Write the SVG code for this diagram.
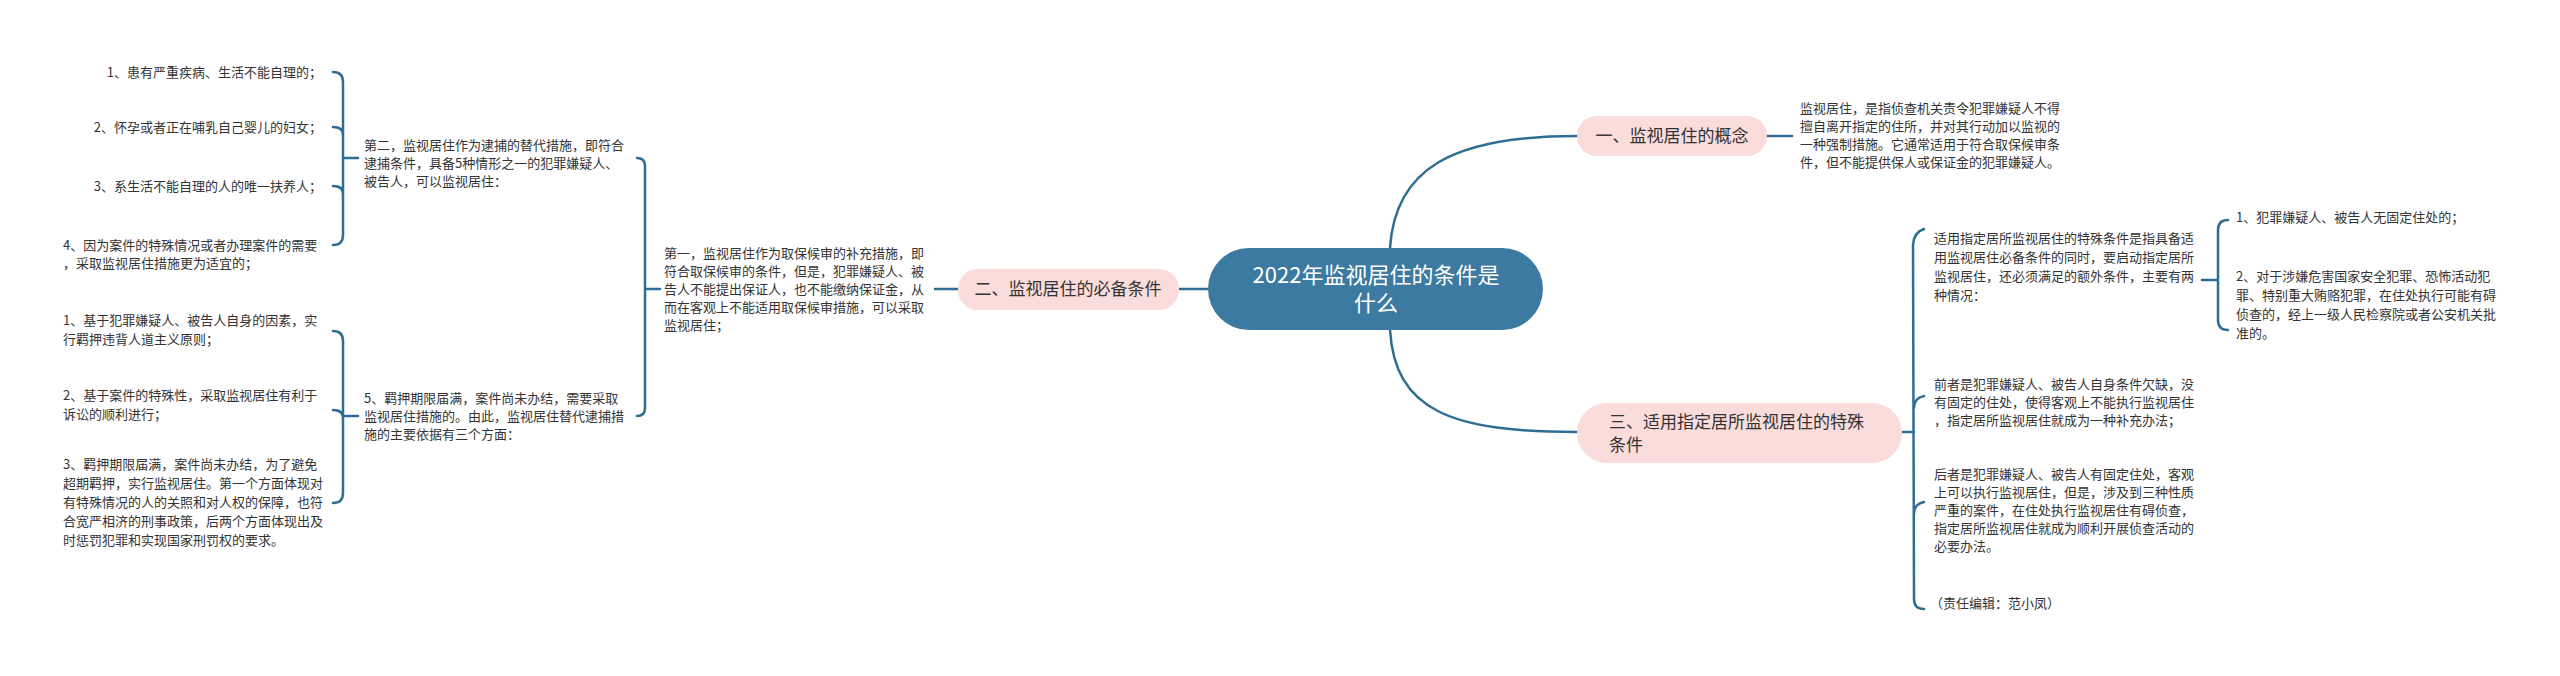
<svg xmlns="http://www.w3.org/2000/svg" width="2560" height="676" viewBox="0 0 2560 676">
<style>
.c{fill:none;stroke:#2f6d93;stroke-width:2.5;stroke-linecap:round}
.t{font-family:"Noto Sans CJK SC","Liberation Sans",sans-serif;font-size:13px;fill:#333}
.n{font-family:"Noto Sans CJK SC","Liberation Sans",sans-serif;font-size:17px;fill:#333}
.r{font-family:"Noto Sans CJK SC","Liberation Sans",sans-serif;font-size:22px;fill:#fff}
.pk{fill:#fadcdb}
</style>
<rect width="2560" height="676" fill="#fff"/>
<g id="connectors">
<path class="c" d="M1390,248 C1395,170 1450,136 1577,136"/>
<path class="c" d="M1390,330 C1395,410 1450,432 1577,432"/>
<path class="c" d="M1208,289 L1179,289"/>
<path class="c" d="M1765,136 L1792,136"/>
<path class="c" d="M958,289 L935,289"/>
<path class="c" d="M660,289 L645,289 M637,158 Q645,158 645,166 L645,408 Q645,416 637,416"/>
<path class="c" d="M358,158 L343,158 M333,72 Q343,72 343,82 L343,235 Q343,245 333,245 M333,127 Q343,127 343,135 M333,186 Q343,186 343,194"/>
<path class="c" d="M358,416 L343,416 M333,331 Q343,331 343,341 L343,493 Q343,503 333,503 M333,410 Q343,410 343,418"/>
<path class="c" d="M1902,432 L1914,432 M1924,229 Q1914,232 1913,245 L1914,599 Q1914,609 1924,609 M1924,396 Q1914,398 1914,408 M1924,502 Q1914,504 1914,514"/>
<path class="c" d="M2202,280 L2218,280 M2228,220 Q2218,220 2218,230 L2218,320 Q2218,330 2228,330"/>
</g>
<g id="root">
<rect x="1208" y="248" width="335" height="82" rx="41" fill="#3c7aa1"/>
<text class="r" x="1376" y="283" text-anchor="middle">2022年监视居住的条件是</text>
<text class="r" x="1376" y="311" text-anchor="middle">什么</text>
</g>
<g id="n1">
<rect class="pk" x="1577" y="116" width="190" height="40" rx="20"/>
<text class="n" x="1672" y="142" text-anchor="middle">一、监视居住的概念</text>
</g>
<g id="n1a">
<text class="t" x="1800" y="113">监视居住，是指侦查机关责令犯罪嫌疑人不得</text>
<text class="t" x="1800" y="131">擅自离开指定的住所，并对其行动加以监视的</text>
<text class="t" x="1800" y="149">一种强制措施。它通常适用于符合取保候审条</text>
<text class="t" x="1800" y="167">件，但不能提供保人或保证金的犯罪嫌疑人。</text>
</g>
<g id="n2">
<rect class="pk" x="958" y="269" width="221" height="41" rx="20"/>
<text class="n" x="1068" y="295" text-anchor="middle">二、监视居住的必备条件</text>
</g>
<g id="n2a">
<text class="t" x="664" y="258">第一，监视居住作为取保候审的补充措施，即</text>
<text class="t" x="664" y="276">符合取保候审的条件，但是，犯罪嫌疑人、被</text>
<text class="t" x="664" y="294">告人不能提出保证人，也不能缴纳保证金，从</text>
<text class="t" x="664" y="312">而在客观上不能适用取保候审措施，可以采取</text>
<text class="t" x="664" y="330">监视居住；</text>
</g>
<g id="n2b">
<text class="t" x="364" y="150">第二，监视居住作为逮捕的替代措施，即符合</text>
<text class="t" x="364" y="168">逮捕条件，具备5种情形之一的犯罪嫌疑人、</text>
<text class="t" x="364" y="186">被告人，可以监视居住：</text>
</g>
<g id="n2b1"><text class="t" x="322" y="77" text-anchor="end">1、患有严重疾病、生活不能自理的；</text></g>
<g id="n2b2"><text class="t" x="322" y="132" text-anchor="end">2、怀孕或者正在哺乳自己婴儿的妇女；</text></g>
<g id="n2b3"><text class="t" x="322" y="191" text-anchor="end">3、系生活不能自理的人的唯一扶养人；</text></g>
<g id="n2b4">
<text class="t" x="63" y="250">4、因为案件的特殊情况或者办理案件的需要</text>
<text class="t" x="63" y="268">，采取监视居住措施更为适宜的；</text>
</g>
<g id="n2c">
<text class="t" x="364" y="403">5、羁押期限届满，案件尚未办结，需要采取</text>
<text class="t" x="364" y="421">监视居住措施的。由此，监视居住替代逮捕措</text>
<text class="t" x="364" y="439">施的主要依据有三个方面：</text>
</g>
<g id="n2c1">
<text class="t" x="63" y="325">1、基于犯罪嫌疑人、被告人自身的因素，实</text>
<text class="t" x="63" y="344">行羁押违背人道主义原则；</text>
</g>
<g id="n2c2">
<text class="t" x="63" y="400">2、基于案件的特殊性，采取监视居住有利于</text>
<text class="t" x="63" y="419">诉讼的顺利进行；</text>
</g>
<g id="n2c3">
<text class="t" x="63" y="469">3、羁押期限届满，案件尚未办结，为了避免</text>
<text class="t" x="63" y="488">超期羁押，实行监视居住。第一个方面体现对</text>
<text class="t" x="63" y="507">有特殊情况的人的关照和对人权的保障，也符</text>
<text class="t" x="63" y="526">合宽严相济的刑事政策，后两个方面体现出及</text>
<text class="t" x="63" y="545">时惩罚犯罪和实现国家刑罚权的要求。</text>
</g>
<g id="n3">
<rect class="pk" x="1577" y="403" width="325" height="60" rx="30"/>
<text class="n" x="1609" y="428">三、适用指定居所监视居住的特殊</text>
<text class="n" x="1609" y="451">条件</text>
</g>
<g id="n3a">
<text class="t" x="1934" y="243">适用指定居所监视居住的特殊条件是指具备适</text>
<text class="t" x="1934" y="262">用监视居住必备条件的同时，要启动指定居所</text>
<text class="t" x="1934" y="281">监视居住，还必须满足的额外条件，主要有两</text>
<text class="t" x="1934" y="300">种情况：</text>
</g>
<g id="n3a1"><text class="t" x="2236" y="222">1、犯罪嫌疑人、被告人无固定住处的；</text></g>
<g id="n3a2">
<text class="t" x="2236" y="281">2、对于涉嫌危害国家安全犯罪、恐怖活动犯</text>
<text class="t" x="2236" y="300">罪、特别重大贿赂犯罪，在住处执行可能有碍</text>
<text class="t" x="2236" y="319">侦查的，经上一级人民检察院或者公安机关批</text>
<text class="t" x="2236" y="338">准的。</text>
</g>
<g id="n3b">
<text class="t" x="1934" y="389">前者是犯罪嫌疑人、被告人自身条件欠缺，没</text>
<text class="t" x="1934" y="407">有固定的住处，使得客观上不能执行监视居住</text>
<text class="t" x="1934" y="425">，指定居所监视居住就成为一种补充办法；</text>
</g>
<g id="n3c">
<text class="t" x="1934" y="479">后者是犯罪嫌疑人、被告人有固定住处，客观</text>
<text class="t" x="1934" y="497">上可以执行监视居住，但是，涉及到三种性质</text>
<text class="t" x="1934" y="515">严重的案件，在住处执行监视居住有碍侦查，</text>
<text class="t" x="1934" y="533">指定居所监视居住就成为顺利开展侦查活动的</text>
<text class="t" x="1934" y="551">必要办法。</text>
</g>
<g id="n3d"><text class="t" x="1930" y="608">（责任编辑：范小凤）</text></g>
</svg>
